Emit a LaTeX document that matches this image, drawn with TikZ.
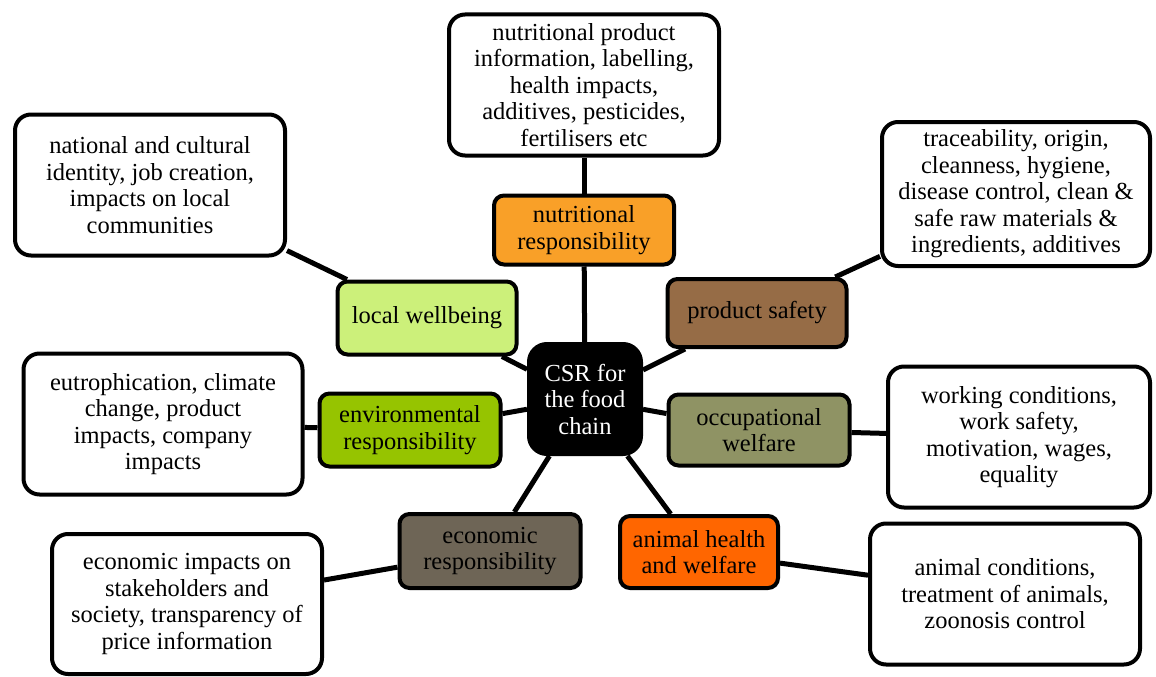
\documentclass[tikz,border=0pt]{standalone}
\usepackage{fontspec}
\setmainfont{Liberation Serif}

\definecolor{nutriorange}{RGB}{249,160,40}
\definecolor{localgreen}{RGB}{204,240,122}
\definecolor{safetybrown}{RGB}{150,108,70}
\definecolor{envgreen}{RGB}{150,196,0}
\definecolor{occuolive}{RGB}{143,147,100}
\definecolor{econgrey}{RGB}{110,101,86}
\definecolor{animalorange}{RGB}{255,102,0}

\tikzset{
  detailbox/.style={draw=black,line width=4pt,rounded corners=16pt,fill=white,
    align=center,inner sep=0pt,minimum width=270pt,minimum height=141pt,
    font=\fontsize{24.5}{26.5}\selectfont},
  topicbox/.style={draw=black,line width=4pt,rounded corners=10pt,
    align=center,inner sep=0pt,minimum width=180pt,minimum height=71pt,
    font=\fontsize{24.5}{26.5}\selectfont},
  hubbox/.style={draw=black,line width=4pt,rounded corners=18pt,fill=black,
    text=white,align=center,inner sep=0pt,minimum width=112pt,minimum height=110pt,
    font=\fontsize{24.5}{26.5}\selectfont},
  spoke/.style={line width=5pt,black}
}

\begin{document}
\begin{tikzpicture}[x=1pt,y=-1pt]
\useasboundingbox (0,0) rectangle (1156,677);

% outer detail boxes
\node[detailbox] (nutriInfo) at (584,85) {nutritional product\\information, labelling,\\health impacts,\\additives, pesticides,\\fertilisers etc};
\node[detailbox] (localInfo) at (150,185) {national and cultural\\identity, job creation,\\impacts on local\\communities};
\node[detailbox,minimum width=268pt,minimum height=144pt] (safetyInfo) at (1016,194) {traceability, origin,\\cleanness, hygiene,\\disease control, clean \&\\safe raw materials \&\\ingredients, additives};
\node[detailbox,minimum width=279pt] (envInfo) at (163,424) {eutrophication, climate\\change, product\\impacts, company\\impacts};
\node[detailbox,minimum width=262pt] (occuInfo) at (1019,437) {working conditions,\\work safety,\\motivation, wages,\\equality};
\node[detailbox,minimum height=140pt] (econInfo) at (187,604) {economic impacts on\\stakeholders and\\society, transparency of\\price information};
\node[detailbox] (animalInfo) at (1005,594) {animal conditions,\\treatment of animals,\\zoonosis control};

% topic boxes
\node[topicbox,fill=nutriorange,minimum height=69pt] (nutri) at (584,230) {nutritional\\responsibility};
\node[topicbox,fill=localgreen,minimum width=179pt,minimum height=73pt] (local) at (427,318) {local wellbeing};
\node[topicbox,fill=safetybrown,minimum width=179pt,minimum height=68pt] (safety) at (757,313) {product safety};
\node[topicbox,fill=envgreen,minimum width=181pt,minimum height=73pt] (env) at (410,430) {environmental\\responsibility};
\node[topicbox,fill=occuolive,minimum width=181pt] (occu) at (759,430) {occupational\\welfare};
\node[topicbox,fill=econgrey,minimum width=181pt,minimum height=74pt] (econ) at (490,551) {economic\\responsibility};
\node[topicbox,fill=animalorange,minimum width=158pt,minimum height=72pt] (animal) at (699,552) {animal health\\and welfare};

% hub
\node[hubbox] (csr) at (585,399) {CSR for\\the food\\chain};

\draw[spoke] (nutriInfo) -- (nutri);
\draw[spoke] (nutri) -- (csr);
\draw[spoke] (localInfo) -- (local);
\draw[spoke] (local) -- (csr);
\draw[spoke] (safetyInfo) -- (safety);
\draw[spoke] (safety) -- (csr);
\draw[spoke] (envInfo) -- (env);
\draw[spoke] (env) -- (csr);
\draw[spoke] (occuInfo) -- (occu);
\draw[spoke] (occu) -- (csr);
\draw[spoke] (econInfo) -- (econ);
\draw[spoke] (econ) -- (csr);
\draw[spoke] (animalInfo) -- (animal);
\draw[spoke] (animal) -- (csr);
\end{tikzpicture}
\end{document}
